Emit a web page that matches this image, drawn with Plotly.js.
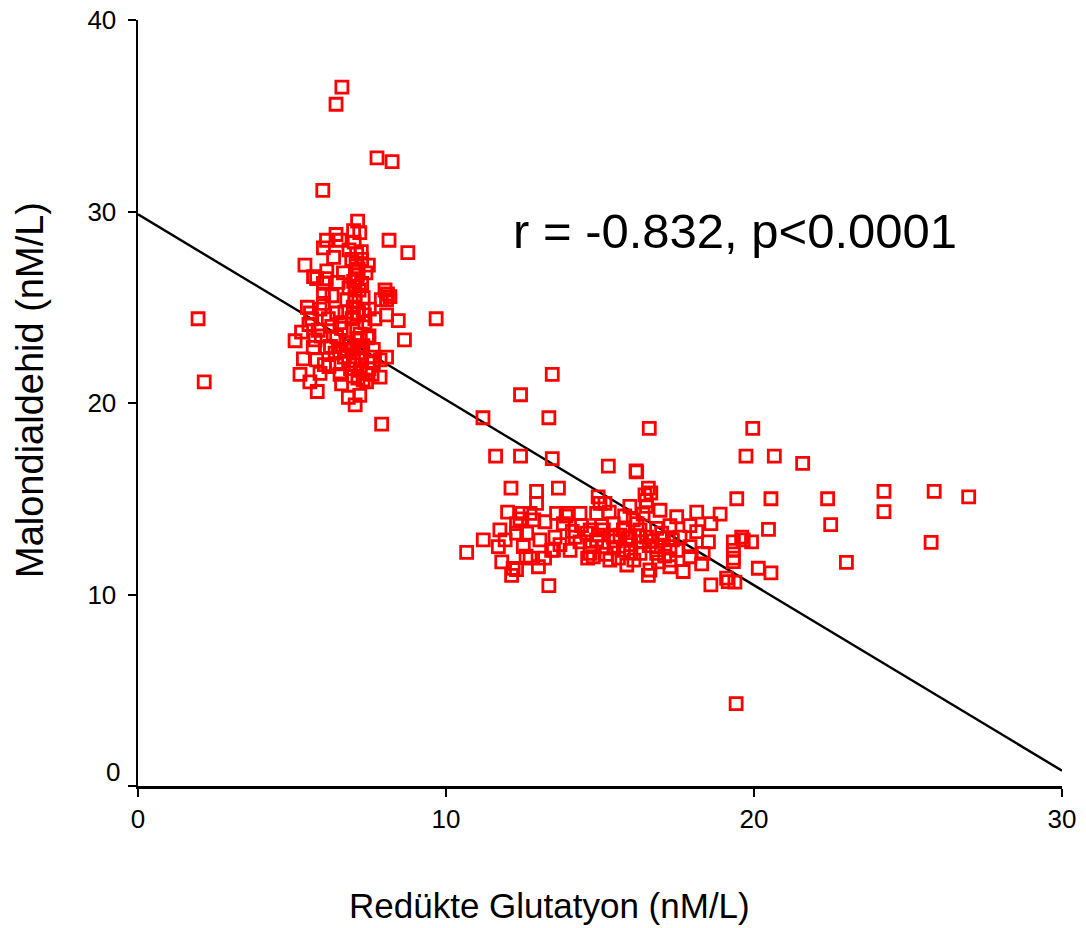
<!DOCTYPE html>
<html>
<head>
<meta charset="utf-8">
<script src="https://cdn.plot.ly/plotly-3.0.1.min.js"></script>
<style>html,body{margin:0;padding:0;background:#fff;}#chart{width:1086px;height:928px;}</style>
</head>
<body>
<div id="chart"></div>
<script>
// Cluster with low glutathione (left group)
const glutatyonA = [1.95,2.15,6.62,6.43,7.76,8.25,6.0,7.13,7.0,7.02,6.43,6.12,6.02,6.56,8.15,8.76,9.68,8.65,5.42,6.13,5.8,6.94,7.26,7.48,6.67,8.02,8.18,7.9,8.07,7.69,8.07,8.45,7.51,6.02,6.02,6.02,5.91,5.64,5.55,6.18,5.31,5.10,5.75,6.12,5.37,5.8,5.26,5.58,5.82,5.91,6.56,6.61,6.83,7.05,7.31,7.86,8.07,7.91,6.45,6.99,7.21,7.42,7.64,6.4,6.78,7.21,7.1,6.99,6.99,7.05,7.05,7.1,6.78,6.72,6.56,6.45,7.21,7.37,7.31,7.31,7.26,6.45,6.29,5.85,5.69,6.99,7.64,7.86,7.26,7.42,7.15,7.2,6.85,6.9,7.15,7.3,6.6,6.3,6.5,5.7,6.1,7.5,7.0,6.7,6.2,5.95,7.4,6.85,7.1,5.5,6.9,7.5,7.2,8.1,6.35,7.08,7.12,7.18,7.04,7.16,7.1,7.22,7.06,7.14,6.95,7.25,7.0,6.75,6.55,7.45,7.35,5.6,6.05,6.25,7.55,7.6];
const malondialdehidA = [24.4,21.1,36.5,35.6,32.8,32.6,31.1,29.5,29.0,28.4,28.8,28.5,28.1,28.5,28.5,27.85,24.4,23.3,27.2,26.9,26.5,27.5,27.5,27.2,26.8,25.9,25.55,25.4,25.4,24.4,24.6,24.3,24.9,26.25,25.7,25.2,24.9,24.4,24.1,24.4,23.7,23.25,23.3,22.9,22.3,22.25,21.5,21.1,20.6,21.55,21.5,21.0,20.3,19.9,21.2,21.35,22.4,18.9,22.05,22.2,21.7,21.55,22.1,22.6,22.8,23.3,24.0,24.5,25.0,25.55,26.1,26.5,25.4,24.75,24.2,23.45,23.6,24.2,24.85,25.5,26.25,24.7,24.0,23.8,22.9,22.8,22.8,22.25,22.25,21.1,27.0,28.9,26.0,23.0,22.6,23.0,23.9,25.6,26.3,26.6,26.5,23.5,21.4,22.4,21.9,23.5,26.8,28.0,27.8,25.0,21.8,21.8,20.4,25.7,27.6,27.3,26.7,25.9,25.3,24.7,23.3,22.95,22.0,21.3,24.4,27.9,26.35,23.15,22.7,23.4,24.6,24.7,22.0,22.95,22.4,21.5];
// Cluster with higher glutathione (right group)
const glutatyonB = [13.45,12.42,11.2,13.34,11.61,12.42,13.45,16.6,19.96,15.27,16.17,19.74,20.66,21.58,22.39,24.22,25.85,26.97,20.55,19.44,22.49,24.22,20.47,23.0,25.75,20.55,20.14,19.92,19.6,19.42,19.38,18.6,13.34,10.67,11.21,12.11,12.94,13.65,12.94,12.46,12.73,13.59,13.97,14.35,14.94,15.16,14.89,13.21,12.29,11.75,11.92,12.29,12.62,13.05,13.54,13.81,13.43,14.03,14.35,14.57,14.68,11.81,12.18,12.13,12.73,13.0,11.7,12.51,16.19,16.57,16.46,16.51,16.95,18.14,18.9,17.49,15.97,15.0,15.43,16.08,17.27,17.92,18.14,18.52,17.6,17.06,16.51,15.97,15.43,14.89,19.33,19.65,19.33,19.33,19.11,18.35,17.92,17.92,17.7,17.27,17.27,16.62,16.57,15.87,15.32,14.78,16.3,16.84,15.76,15.11,16.84,17.27,16.3,16.84,15.76,15.11,14.68,14.68,19.33,12.29,14.6,13.49,19.16,15.5,16.0,16.2,15.2,16.7,14.2,15.8,16.4,17.0,15.6,14.4,16.9,18.3,17.5,13.9,14.1,18.6,16.1,12.0,12.6,13.2,15.3,16.65,15.9,16.35,16.0,15.45,16.6,17.1,14.95,15.65,16.25,17.35,15.05,16.5,13.7,12.85,12.4];
const malondialdehidB = [21.5,20.43,19.23,19.23,17.23,17.23,17.1,18.68,18.68,16.7,16.45,17.23,17.23,16.85,15.0,15.39,15.39,15.1,15.0,15.0,13.65,14.33,13.4,11.68,12.72,11.13,11.37,12.75,13.0,4.3,10.65,10.5,10.46,12.2,12.85,15.55,15.38,15.55,14.76,14.24,14.24,14.24,14.24,14.24,15.1,14.76,14.24,13.8,13.7,13.37,12.85,13.2,13.2,12.85,13.0,13.7,12.3,12.3,12.75,13.2,12.15,11.7,11.36,11.0,11.9,11.45,12.5,12.5,16.4,15.55,15.2,14.6,14.4,14.3,14.2,14.06,14.6,14.76,13.7,13.9,13.6,13.6,13.28,12.75,13.0,12.93,13.0,13.0,13.0,12.85,12.75,12.85,12.3,11.9,10.85,12.15,12.5,11.97,11.2,11.8,11.45,11.28,11.0,11.54,11.8,11.97,12.15,12.15,12.3,12.5,12.5,12.5,13.37,13.45,13.37,13.37,13.37,12.5,11.72,11.3,11.9,12.32,10.67,12.8,12.6,13.7,12.1,12.8,13.0,14.1,14.2,13.2,11.9,13.6,11.7,11.6,12.3,14.1,13.3,13.7,11.8,14.3,12.0,11.9,14.3,15.3,12.95,12.75,12.2,12.45,12.55,12.0,13.1,13.1,13.05,12.85,13.6,14.9,12.6,13.9,13.95];
// Regression line (fitted values at the ends of the axis)
const fitX = [0, 30];
const fitY = [29.85, 0.8];
const xTicks = [0, 10, 20, 30];
const yTicks = [10, 20, 30, 40];
const statText = 'r = -0.832, p<0.0001';
const xTitle = 'Redükte Glutatyon (nM/L)';
const yTitle = 'Malondialdehid (nM/L)';

const FONT = '"Liberation Sans", Arial, Helvetica, sans-serif';

const traces = [
  {
    x: fitX, y: fitY, mode: 'lines', type: 'scatter',
    line: {color: '#000000', width: 2.4}, hoverinfo: 'skip', cliponaxis: false
  },
  {
    x: glutatyonA.concat(glutatyonB),
    y: malondialdehidA.concat(malondialdehidB),
    mode: 'markers', type: 'scatter', cliponaxis: false,
    marker: {symbol: 'square-open', size: 12, color: '#ff0000', line: {color: '#ff0000', width: 2.8}}
  }
];

const pw = 1086 - 138 - 24, ph = 928 - 20 - 142;
const layout = {
  width: 1086, height: 928,
  margin: {l: 138, r: 24, t: 20, b: 142},
  paper_bgcolor: '#ffffff', plot_bgcolor: '#ffffff',
  showlegend: false,
  font: {family: FONT, color: '#000000'},
  xaxis: {
    range: [0, 30], tickvals: xTicks, ticktext: xTicks.map(String),
    showgrid: false, zeroline: false, showline: true, linecolor: '#000', linewidth: 2.5,
    ticks: 'outside', ticklen: 8, tickwidth: 2, tickcolor: '#000',
    tickfont: {family: FONT, size: 26, color: '#000'}
  },
  yaxis: {
    range: [0, 40], tickvals: [0].concat(yTicks), ticktext: [''].concat(yTicks.map(String)),
    showgrid: false, zeroline: false, showline: true, linecolor: '#000', linewidth: 2.5,
    ticks: 'outside', ticklen: 8, tickwidth: 2, tickcolor: '#000',
    ticklabelstandoff: 6,
    tickfont: {family: FONT, size: 26, color: '#000'}
  },
  annotations: [
    {x: 19.38, y: 29.0, xref: 'x', yref: 'y', text: statText, showarrow: false,
     xanchor: 'center', yanchor: 'middle',
     font: {family: FONT, size: 49, color: '#000'}},
    {x: 0, y: 0, xref: 'paper', yref: 'y', text: '0', showarrow: false,
     xanchor: 'right', yanchor: 'middle', xshift: -16, yshift: 14,
     font: {family: FONT, size: 26, color: '#000'}},
    {x: (549 - 138) / pw, y: (786 - 905) / ph, xref: 'paper', yref: 'paper', text: xTitle, showarrow: false,
     xanchor: 'center', yanchor: 'middle',
     font: {family: FONT, size: 35, color: '#000'}},
    {x: (30 - 138) / pw, y: (786 - 390) / ph, xref: 'paper', yref: 'paper', text: yTitle, showarrow: false, textangle: -90,
     xanchor: 'center', yanchor: 'middle',
     font: {family: FONT, size: 38, color: '#000'}}
  ]
};

Plotly.newPlot('chart', traces, layout, {displayModeBar: false, staticPlot: true});
</script>
</body>
</html>
